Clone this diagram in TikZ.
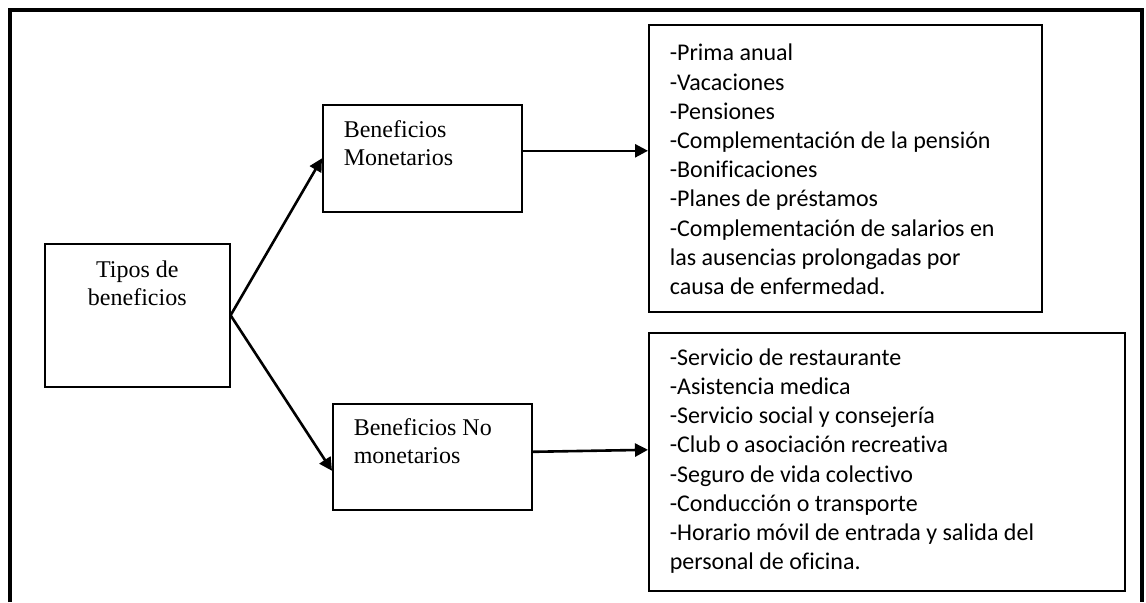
\documentclass[tikz,border=0pt]{standalone}
\usepackage{fontspec}
\setmainfont[Ligatures=NoCommon]{Liberation Serif}
\newfontfamily\calibri[Ligatures=NoCommon]{Carlito}
\usepackage{tikz}
\usetikzlibrary{arrows.meta}

\begin{document}
\begin{tikzpicture}[x=0.5pt,y=-0.5pt,>={Triangle[length=6.5pt,width=6.5pt]}]
\tikzset{
    tipo/.style={%
        draw, line width=0.8pt,
        rectangle,
        inner sep=0pt,
        anchor=north west,
        font=\fontsize{12}{14}\selectfont
        },
    lista/.style={%
        draw, line width=0.8pt,
        rectangle,
        inner sep=0pt,
        anchor=north west,
        font=\calibri\fontsize{12}{14.6}\selectfont
        },
    flecha/.style={->, line width=1.3pt},
}
\useasboundingbox (0,0) rectangle (1146,602);
%%%MARCO
\draw[line width=2pt] (10,602) -- (10,10) -- (1142,10) -- (1142,602);
%%%TIPOS
\node[tipo] (tipos) at (44,243) {\parbox[c][71.5pt][t]{92.5pt}{\vspace*{7.2pt}\centering\strut Tipos de\\ beneficios}};
\node[tipo] (mone) at (322,104) {\parbox[c][53.5pt][t]{99.5pt}{\vspace*{6.7pt}\raggedright\leftskip=10.5pt\strut Beneficios\\ Monetarios}};
\node[tipo] (nomon) at (332,403) {\parbox[c][53pt][t]{99.5pt}{\vspace*{6.2pt}\raggedright\leftskip=10.5pt\strut Beneficios No\\ monetarios}};
%%%LISTAS
\node[lista] (lista1) at (648,24) {\parbox[c][143.5pt][t]{196.5pt}{\vspace*{7.8pt}\raggedright\leftskip=10.5pt\strut -Prima anual\\
-Vacaciones\\
-Pensiones\\
-Complementación de la pensión\\
-Bonificaciones\\
-Planes de préstamos\\
-Complementación de salarios en\\
las ausencias prolongadas por\\
causa de enfermedad.}};
\node[lista] (lista2) at (648,332) {\parbox[c][129pt][t]{238pt}{\vspace*{6pt}\raggedright\leftskip=10.5pt\strut -Servicio de restaurante\\
-Asistencia medica\\
-Servicio social y consejería\\
-Club o asociación recreativa\\
-Seguro de vida colectivo\\
-Conducción o transporte\\
-Horario móvil de entrada y salida del\\
personal de oficina.}};
%%%FLECHAS
\draw[flecha] (tipos.east) -- (mone.west);
\draw[flecha] (tipos.east) -- ([yshift=-7pt]nomon.west);
\draw[flecha] ([yshift=3.75pt]mone.east) -- ([yshift=3.75pt]mone.east -| lista1.west);
\draw[flecha] ([yshift=2.5pt]nomon.east) -- ([yshift=6pt]lista2.west);
\end{tikzpicture}
\end{document}
